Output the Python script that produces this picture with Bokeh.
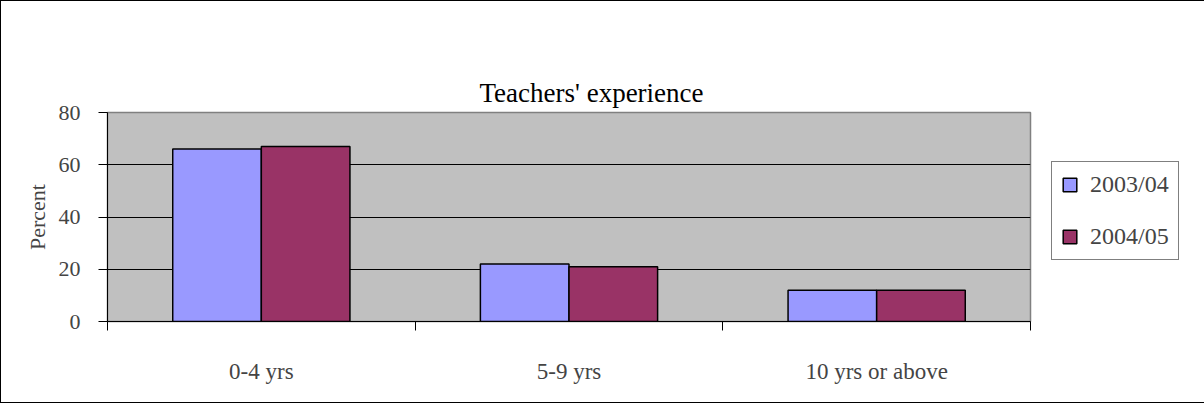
from bokeh.plotting import figure
from bokeh.models import (ColumnDataSource, Range1d, LinearAxis, FixedTicker,
                          Legend, LegendItem, Title)
from bokeh.transform import dodge
from bokeh.embed import file_html
from bokeh.resources import INLINE

# ---- data ----
categories = ["0-4 yrs", "5-9 yrs", "10 yrs or above"]
pct_2003_04 = [66, 22, 12]
pct_2004_05 = [67, 21, 12]
series_names = ["2003/04", "2004/05"]
y_ticks = [0, 20, 40, 60, 80]
title_text = "Teachers' experience"
y_label = "Percent"

FONT = "Liberation Serif"

# category slots on a numeric scale: category i occupies [i, i+1]
slot_centers = [i + 0.5 for i in range(len(categories))]
slot_edges = list(range(len(categories) + 1))

source = ColumnDataSource(dict(xc=slot_centers, a=pct_2003_04, b=pct_2004_05))

p = figure(x_range=Range1d(0, len(categories)),
           y_range=Range1d(0, 80),
           frame_width=923, frame_height=209,
           min_border_left=106, min_border_right=158,
           min_border_top=111, min_border_bottom=81,
           x_axis_location=None, title_location=None,
           output_backend="svg", toolbar_location=None, tools="")

p.styles = {"border": "1px solid black"}
p.background_fill_color = "#C0C0C0"
p.border_fill_color = "white"
p.outline_line_color = "#808080"
p.outline_line_width = 1.5

# invisible spacer between the frame and the title
spacer = LinearAxis(ticker=FixedTicker(ticks=[]), axis_line_color=None,
                    major_tick_line_color="white", minor_tick_line_color=None,
                    major_tick_out=62, major_tick_in=0, minor_tick_out=0,
                    major_label_standoff=0, major_label_text_font_size="0px")
p.add_layout(spacer, "above")

title = Title(text=title_text, align="left", offset=372,
              text_font=FONT, text_font_size="27px", text_font_style="normal",
              text_color="black")
p.add_layout(title, "above")

# y axis
ya = p.yaxis[0]
ya.ticker = FixedTicker(ticks=y_ticks)
ya.major_tick_out = 9
ya.major_tick_in = 0
ya.minor_tick_line_color = None
ya.axis_line_color = "black"
ya.major_label_text_font = FONT
ya.major_label_text_font_size = "22px"
ya.major_label_standoff = 18
ya.axis_label = y_label
ya.axis_label_text_font = FONT
ya.axis_label_text_font_size = "22px"
ya.axis_label_text_font_style = "normal"
ya.axis_label_standoff = 6

for g in p.grid:
    if g.dimension == 0:
        g.visible = False
p.ygrid.grid_line_color = "black"
p.ygrid.grid_line_width = 1

# x axis: labels at category centres, tick marks at category boundaries
xa = LinearAxis(ticker=FixedTicker(ticks=slot_centers, minor_ticks=slot_edges),
                major_label_overrides={c: lab for c, lab in zip(slot_centers, categories)},
                major_tick_line_color=None, major_tick_out=0, major_tick_in=0,
                minor_tick_line_color="black", minor_tick_out=9, minor_tick_in=0,
                axis_line_color="black",
                major_label_text_font=FONT, major_label_text_font_size="23px",
                major_label_standoff=28)
p.add_layout(xa, "below")

# bars
r1 = p.vbar(x=dodge("xc", -0.144), top="a", width=0.288,
            source=source, fill_color="#9999FF", line_color="black", line_width=1.5)
r2 = p.vbar(x=dodge("xc", 0.144), top="b", width=0.288,
            source=source, fill_color="#993366", line_color="black", line_width=1.5)

legend = Legend(items=[LegendItem(label=series_names[0], renderers=[r1]),
                       LegendItem(label=series_names[1], renderers=[r2])],
                location=(21, 61),
                border_line_color="black", border_line_width=1,
                background_fill_color="white", background_fill_alpha=1,
                label_text_font=FONT, label_text_font_size="24px",
                glyph_width=17, glyph_height=17, label_standoff=12,
                spacing=25, padding=9, margin=0, label_height=22)
p.add_layout(legend, "right")

open("out.html", "w").write(file_html(p, INLINE))
